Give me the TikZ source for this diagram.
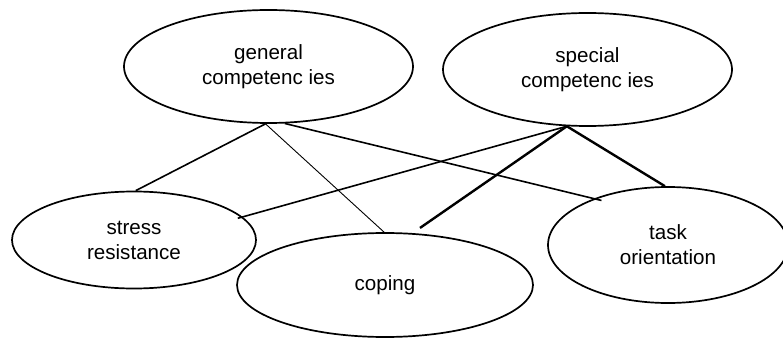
\documentclass[tikz,border=0pt]{standalone}
\usepackage{fontspec}
\setmainfont{Liberation Sans}
\usetikzlibrary{shapes.geometric}

\tikzset{
  blob/.style={draw,ellipse,line width=1.7pt,inner sep=0pt,align=center}
}

\begin{document}
\begin{tikzpicture}[x=1pt,y=-1pt, font=\fontsize{20.6}{25}\selectfont]
\useasboundingbox (0,0) rectangle (783,339);

% the five ellipses: name/centre x/centre y/half width/half height/text
\foreach \n/\cx/\cy/\rx/\ry/\t in {general/268.5/66.5/144.5/56.5/{general\\competenc ies},
  special/587.5/69.5/144.5/56.5/{special\\competenc ies},
  stress/134/240/122/48.5/{stress\\resistance},
  coping/385/285/148/52/{coping},
  task/668/245/120/58/{task\\orientation}}
\node[blob,minimum width=2*\rx,minimum height=2*\ry] (\n) at (\cx,\cy) {\t};

% links: from/to/line width/shortening at the far end
\foreach \a/\b/\w/\d in {general.267/stress.88/1.6/0,
  general.267/coping.91/0.9/0,
  general.286/task.148/1.6/-8,
  special.250/stress.12/1.6/-5,
  special.250/coping.62/2.4/9,
  special.250/task.93/2.4/0}
\draw[line width=\w pt,shorten >=\d pt] (\a)--(\b);

\end{tikzpicture}
\end{document}
